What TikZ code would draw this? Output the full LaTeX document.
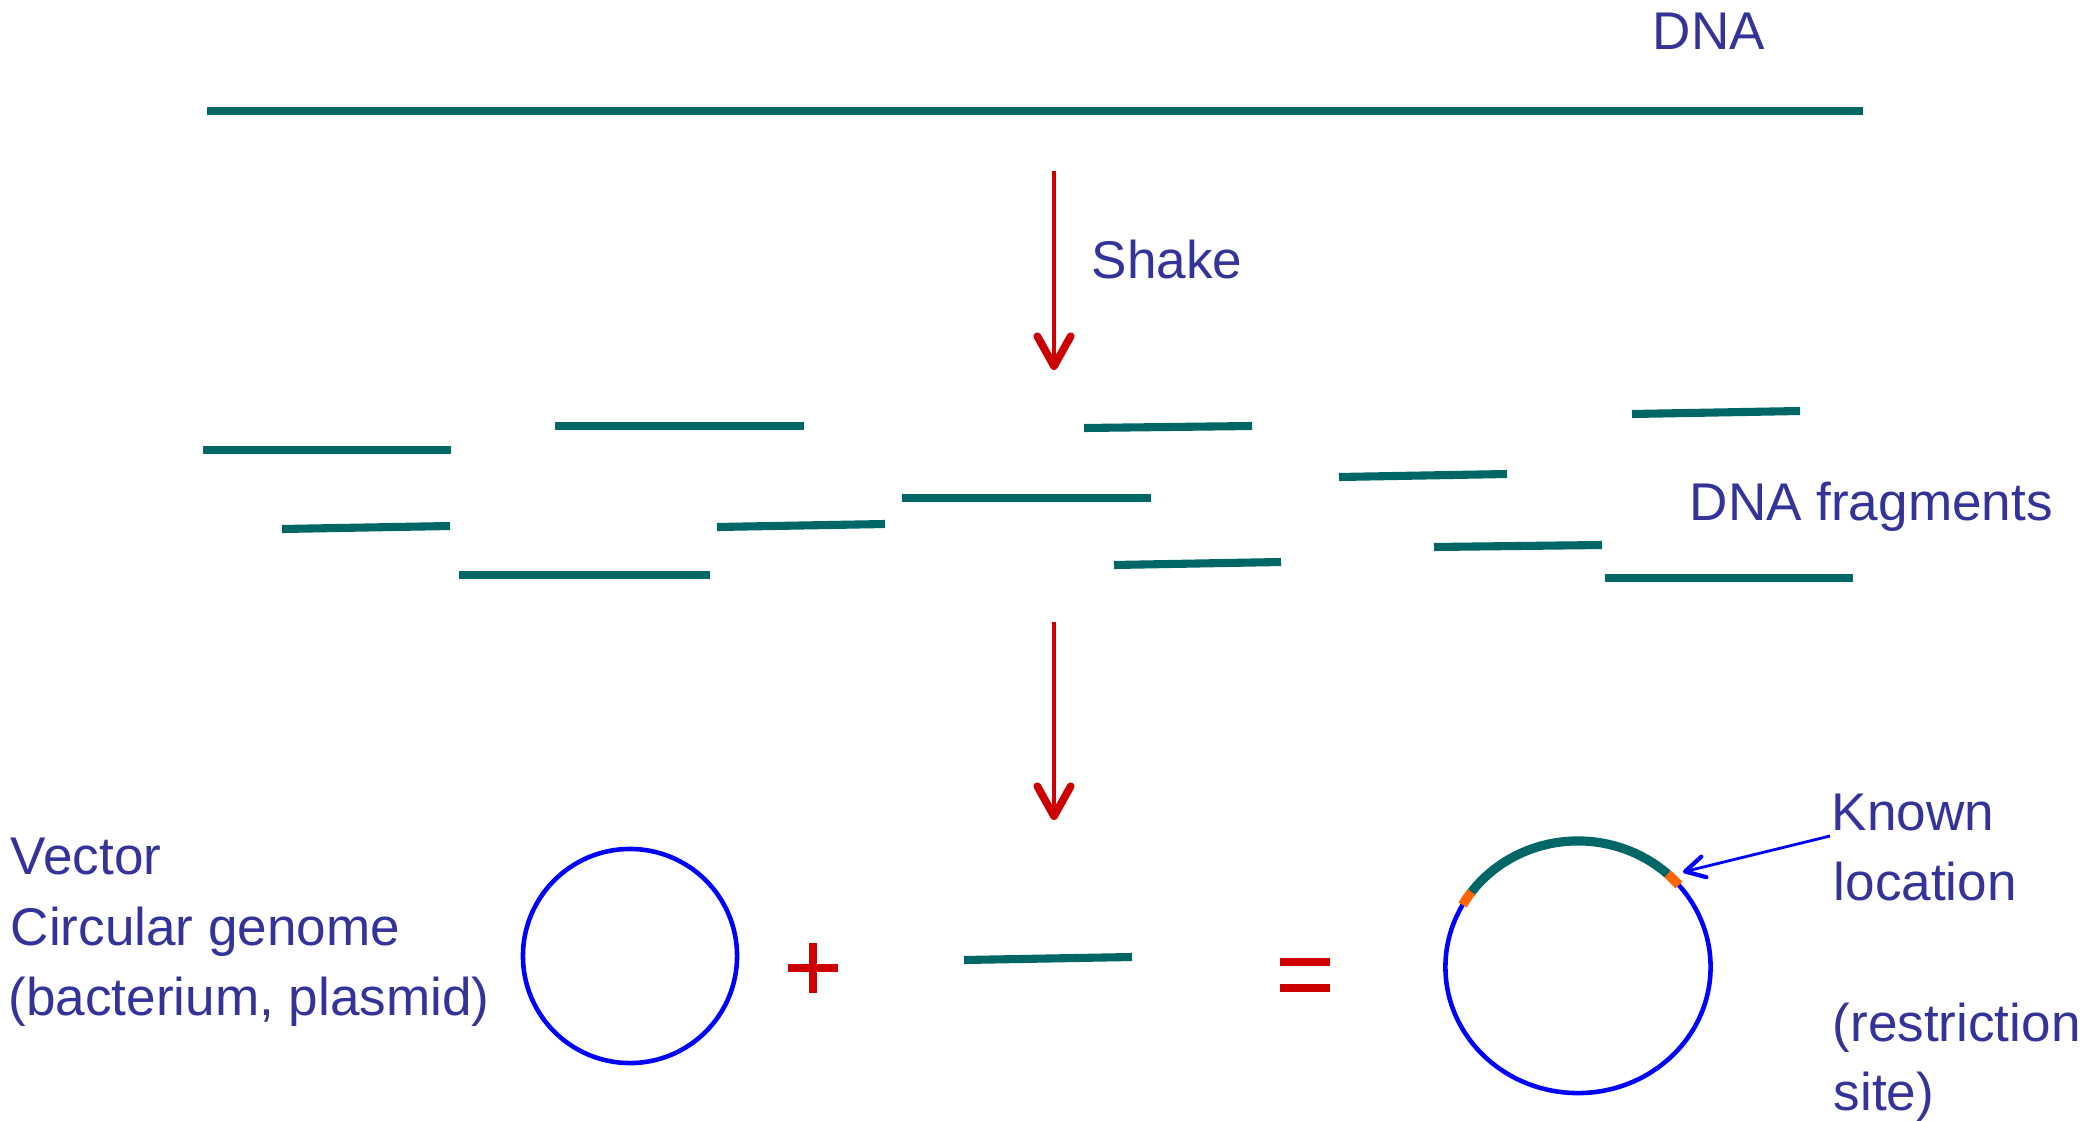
\documentclass[tikz,border=0pt]{standalone}
\usepackage{fontspec}
\setmainfont{Liberation Sans}
\usetikzlibrary{arrows.meta,calc}
\definecolor{txtblue}{HTML}{333399}
\definecolor{dnateal}{HTML}{006666}
\definecolor{arrred}{HTML}{CC0000}
\definecolor{ringblue}{HTML}{0000FF}
\definecolor{siteorange}{HTML}{FF6600}
\tikzset{
  lbl/.style={inner sep=0pt, anchor=base west, text=txtblue, font=\fontsize{15.1pt}{20pt}\selectfont},
  dnaline/.style={draw=dnateal, line width=2.3pt},
  redarrow/.style={draw=arrred, line width=1.2pt, -{Straight Barb[length=8.5pt, width=9.5pt, line width=2.2pt, round]}},
  ring/.style={draw=ringblue, line width=1.3pt},
  sitemark/.style={draw=siteorange, line width=2.7pt},
  symb/.style={draw=arrred, line width=2.4pt},
  pointer/.style={draw=ringblue, line width=0.8pt, -{Straight Barb[length=5.5pt, width=6pt, line width=1.2pt, round]}}
}
\begin{document}
\begin{tikzpicture}[x=0.01cm, y=-0.01cm]
\useasboundingbox (0,0) rectangle (2093,1121);

% labels
\node[lbl] (dna) at (1652,50) {DNA};
\node[lbl] (shake) at (1091,278) {Shake};
\node[lbl] (frag) at (1689,520) {DNA fragments};
\node[lbl] (vec1) at (10,874) {Vector};
\node[lbl] (vec2) at (10,945) {Circular genome};
\node[lbl] (vec3) at (8,1015) {(bacterium, plasmid)};
\node[lbl] (kn1) at (1831,830) {Known};
\node[lbl] (kn2) at (1833,900) {location};
\node[lbl] (kn3) at (1832,1041) {(restriction};
\node[lbl] (kn4) at (1833,1110) {site)};

% long DNA
\draw[dnaline] (207,111) -- (1863,111);

% arrows
\coordinate (a1s) at (1054,171);
\coordinate (a1e) at (1054,370);
\draw[redarrow] (a1s) -- (a1e);
\coordinate (a2s) at (1054,622);
\coordinate (a2e) at (1054,820);
\draw[redarrow] (a2s) -- (a2e);

% fragments
\draw[dnaline] (203,450) -- (451,450);
\draw[dnaline] (555,426) -- (804,426);
\draw[dnaline] (282,529) -- (450,526);
\draw[dnaline] (459,575) -- (710,575);
\draw[dnaline] (717,527) -- (885,524);
\draw[dnaline] (902,498) -- (1151,498);
\draw[dnaline] (1084,428) -- (1252,426);
\draw[dnaline] (1114,565) -- (1281,562);
\draw[dnaline] (1339,477) -- (1507,474);
\draw[dnaline] (1434,547) -- (1602,545);
\draw[dnaline] (1632,414) -- (1800,411);
\draw[dnaline] (1605,578) -- (1853,578);

% vector circle
\coordinate (lc) at (630,956);
\draw[ring] (lc) circle[radius=1.07cm];

% plus
\draw[symb] (788,968) -- (838,968);
\draw[symb] (813,943) -- (813,993);

% single fragment
\draw[dnaline] (964,960) -- (1132,957);

% equals
\draw[symb] (1280,962) -- (1330,962);
\draw[symb] (1280,988) -- (1330,988);

% recombinant circle
\coordinate (rc) at (1578,967);
\draw[ring] (rc) ellipse[x radius=1.325cm, y radius=1.26cm];
\draw[draw=dnateal, line width=2.6pt] ($(rc)+(47.5:1.325cm and 1.26cm)$) arc[start angle=47.5, end angle=143.5, x radius=1.325cm, y radius=1.26cm];
\draw[sitemark] ($(rc)+(40.5:1.325cm and 1.26cm)$) arc[start angle=40.5, end angle=47.5, x radius=1.325cm, y radius=1.26cm];
\draw[sitemark] ($(rc)+(143.5:1.325cm and 1.26cm)$) arc[start angle=143.5, end angle=150.5, x radius=1.325cm, y radius=1.26cm];

% pointer
\coordinate (ks) at (1830,836);
\coordinate (kt) at (1683,872);
\draw[pointer] (ks) -- (kt);
\end{tikzpicture}
\end{document}
